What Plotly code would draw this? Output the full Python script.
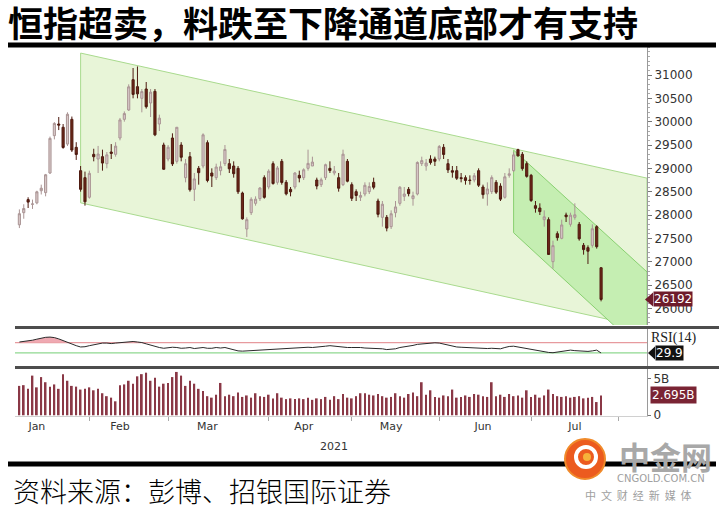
import numpy as np
import plotly.graph_objects as go

# ---------------- data ----------------
dates = [
    "2021-01-08", "2021-01-11", "2021-01-12", "2021-01-13", "2021-01-14", "2021-01-15", "2021-01-18", "2021-01-19",
    "2021-01-20", "2021-01-21", "2021-01-22", "2021-01-25", "2021-01-26", "2021-01-27", "2021-01-28", "2021-01-29",
    "2021-02-01", "2021-02-02", "2021-02-03", "2021-02-04", "2021-02-05", "2021-02-08", "2021-02-09", "2021-02-10",
    "2021-02-11", "2021-02-16", "2021-02-17", "2021-02-18", "2021-02-19", "2021-02-22", "2021-02-23", "2021-02-24",
    "2021-02-25", "2021-02-26",
    "2021-03-01", "2021-03-02", "2021-03-03", "2021-03-04", "2021-03-05", "2021-03-08", "2021-03-09", "2021-03-10",
    "2021-03-11", "2021-03-12", "2021-03-15", "2021-03-16", "2021-03-17", "2021-03-18", "2021-03-19", "2021-03-22",
    "2021-03-23", "2021-03-24", "2021-03-25", "2021-03-26", "2021-03-29", "2021-03-30", "2021-03-31",
    "2021-04-01", "2021-04-07", "2021-04-08", "2021-04-09", "2021-04-12", "2021-04-13", "2021-04-14", "2021-04-15",
    "2021-04-16", "2021-04-19", "2021-04-20", "2021-04-21", "2021-04-22", "2021-04-23", "2021-04-26", "2021-04-27",
    "2021-04-28", "2021-04-29", "2021-04-30",
    "2021-05-03", "2021-05-04", "2021-05-05", "2021-05-06", "2021-05-07", "2021-05-10", "2021-05-11", "2021-05-12",
    "2021-05-13", "2021-05-14", "2021-05-17", "2021-05-18", "2021-05-20", "2021-05-21", "2021-05-24", "2021-05-25",
    "2021-05-26", "2021-05-27", "2021-05-28", "2021-05-31",
    "2021-06-01", "2021-06-02", "2021-06-03", "2021-06-04", "2021-06-07", "2021-06-08", "2021-06-09", "2021-06-10",
    "2021-06-11", "2021-06-15", "2021-06-16", "2021-06-17", "2021-06-18", "2021-06-21", "2021-06-22", "2021-06-23",
    "2021-06-24", "2021-06-25", "2021-06-28", "2021-06-29", "2021-06-30",
    "2021-07-02", "2021-07-05", "2021-07-06", "2021-07-07", "2021-07-08", "2021-07-09", "2021-07-12", "2021-07-13",
    "2021-07-14", "2021-07-15", "2021-07-16", "2021-07-19", "2021-07-20", "2021-07-21", "2021-07-22", "2021-07-23",
    "2021-07-26",
]

opens = [
    27790, 28050, 28330, 28230, 28260, 28520, 28480, 28900, 29700, 29950, 29880, 29520, 30050, 29450, 28950, 28800,
    28380, 29300, 29200, 29250, 29100, 29350, 29300, 29650, 30050, 30250, 30900, 30750, 30500, 30700, 30400, 30650, 29950, 29500,
    29200, 29650, 29150, 29500, 28800, 29250, 28550, 29000, 29050, 29550, 28900, 28800, 28950, 29100, 29100, 29050, 29000, 28470, 27700, 28050, 28250, 28350, 28800,
    28600, 29100, 28700, 29150, 28700, 28550, 28600, 28850, 28800, 29000, 29050, 28750, 28650, 28800, 29000, 28900, 28800, 28650, 29150,
    28650, 28500, 28380, 28450, 28500, 28700, 28300, 27950, 27950, 27750, 28050, 28250, 28400, 28550, 28350, 28450, 29100, 29050, 29200, 29200,
    29200, 29450, 29100, 28950, 28950, 28800, 28800, 28750, 28750, 28950, 28600, 28450, 28500, 28700, 28620, 28380, 28850, 28950, 29400, 29300, 29100,
    28850, 28200, 28150, 27900, 27900, 27000, 27600, 27500, 28000, 27800, 27950, 27800, 27350, 27300, 27350, 27750, 26870,
]
highs = [
    28120, 28230, 28380, 28330, 28520, 28650, 28880, 29680, 29990, 30100, 29950, 30200, 30110, 29560, 29050, 28930,
    28950, 29420, 29480, 29400, 29350, 29520, 29560, 30080, 30220, 30800, 31150, 31183, 30700, 30850, 30700, 30700, 30150, 29550,
    29500, 29750, 29880, 29560, 29200, 29350, 28900, 29050, 29750, 29600, 29000, 29100, 29150, 29500, 29200, 29150, 29050, 28500, 27950, 28380, 28400, 28600, 28850,
    28980, 29150, 29050, 29200, 28750, 28600, 28920, 28950, 29000, 29400, 29250, 28800, 28800, 29100, 29150, 29050, 28900, 29400, 29200,
    28700, 28550, 28500, 28700, 28700, 28800, 28350, 28300, 28000, 28100, 28300, 28620, 28600, 28600, 28500, 29150, 29250, 29200, 29280, 29250,
    29500, 29520, 29200, 29050, 29050, 28900, 28850, 28850, 28900, 29000, 28650, 28700, 28850, 28750, 28680, 28900, 29000, 29350, 29420, 29350, 29150,
    28880, 28300, 28250, 28100, 27950, 27450, 27650, 27900, 28050, 28050, 28250, 27850, 27400, 27350, 27800, 27780, 26880,
]
lows = [
    27720, 27920, 28150, 28130, 28230, 28440, 28400, 28880, 29620, 29820, 29420, 29480, 29350, 29180, 28500, 28200,
    28350, 29150, 28900, 28950, 29000, 29200, 29250, 29600, 30000, 30230, 30500, 30500, 30200, 30280, 30100, 29690, 29800, 28970,
    29150, 29050, 29100, 29150, 28700, 28500, 28300, 28650, 29000, 28700, 28600, 28750, 28850, 29050, 28900, 28800, 28450, 27900, 27530, 28000, 28200, 28300, 28350,
    28550, 28650, 28650, 28650, 28420, 28400, 28550, 28700, 28750, 28950, 29050, 28550, 28600, 28750, 28900, 28850, 28500, 28620, 28700,
    28300, 28300, 28300, 28400, 28450, 28550, 27950, 27750, 27650, 27700, 27950, 28200, 28300, 28400, 28200, 28420, 29050, 28950, 29080, 29050,
    29150, 29200, 28900, 28800, 28750, 28700, 28650, 28650, 28700, 28600, 28350, 28200, 28450, 28450, 28300, 28350, 28800, 28920, 29250, 28950, 28800,
    28280, 28050, 28000, 27750, 27150, 26850, 27450, 27480, 27850, 27750, 27900, 27450, 27150, 26950, 27300, 27280, 26150,
]
closes = [
    28028, 28139, 28276, 28236, 28497, 28574, 28862, 29642, 29962, 29927, 29447, 30159, 29391, 29297, 28550, 28284,
    28893, 29249, 29307, 29113, 29289, 29320, 29476, 30038, 30173, 30746, 30584, 30596, 30645, 30320, 30633, 29718, 30075, 28980,
    29453, 29095, 29880, 29237, 29099, 28541, 28773, 28907, 29718, 28740, 28834, 29028, 29034, 29405, 28990, 28885, 28497, 27918, 27900, 28336, 28339, 28578, 28378,
    28939, 28674, 29008, 28698, 28453, 28497, 28900, 28793, 28969, 29106, 29135, 28621, 28755, 29078, 28952, 28941, 28574, 29303, 28724,
    28357, 28418, 28417, 28637, 28610, 28595, 28014, 28231, 27719, 28027, 28173, 28594, 28450, 28458, 28412, 29125, 29166, 29113, 29124, 29151,
    29468, 29297, 28966, 28918, 28787, 28781, 28740, 28739, 28842, 28638, 28437, 28558, 28801, 28489, 28340, 28818, 28882, 29288, 29268, 28994, 28828,
    28310, 28143, 28072, 27961, 27154, 27344, 27515, 27787, 27963, 27996, 28004, 27490, 27259, 27224, 27705, 27321, 26192,
]
volume_bn = [
    4.0, 4.1, 3.6, 5.4, 3.8, 5.2, 4.5, 3.9, 4.2, 3.6, 5.6, 4.7, 4.0, 3.9, 3.5, 3.6, 3.8, 3.4, 3.6, 3.0,
    2.6, 2.4, 1.9, 4.1, 4.2, 4.7, 4.3, 5.3, 5.6, 5.8, 4.7, 5.1, 3.9, 4.3, 4.4, 5.2, 5.9, 5.4, 4.0, 4.7,
    4.3, 3.6, 3.3, 2.6, 2.4, 2.8, 4.4, 2.6, 2.8,
    2.6, 3.1, 2.5, 2.7, 2.4, 3.0, 2.6, 2.5, 2.8, 2.3, 3.0, 2.4, 2.2, 2.3, 2.2, 2.3, 2.2, 2.4, 2.1, 2.3,
    2.2, 2.5, 2.1, 2.6, 2.2, 2.9, 2.4, 2.3, 2.6, 3.0, 3.0, 2.8, 2.7, 2.9, 2.6, 2.4, 2.5, 3.0, 2.6, 2.4,
    2.9, 3.1, 2.6, 4.5, 2.8, 3.4, 2.5, 2.4, 2.7, 2.6, 3.5, 2.4, 2.5, 2.7, 2.5, 2.9, 2.8, 2.6, 2.5, 4.5,
    2.6, 2.8, 2.5, 2.9, 2.6, 2.7, 2.4, 3.4, 2.5, 2.8, 2.4, 2.7, 3.5, 2.9, 2.6, 2.5, 2.6, 2.4, 2.5, 2.6,
    2.3, 2.4, 2.5, 1.8, 2.695,
]
rsi14 = [
    72, 74, 77, 79, 83, 87, 90, 91, 89, 84, 77, 70, 64, 58, 53, 54, 58, 62, 65, 68,
    68, 66, 68, 69, 70, 72, 74, 72, 70, 65, 60, 53, 51, 48, 51, 52, 51, 48, 49, 51,
    47, 48, 51, 48, 48, 51, 49, 51, 47, 43, 38, 37, 38, 41, 42, 43, 43, 44, 46, 47,
    48, 48, 49, 51, 51, 52, 52, 51, 52, 55, 56, 58, 56, 53, 52, 51, 51, 52, 51, 49,
    48, 49, 48, 46, 43, 44, 46, 51, 53, 56, 59, 63, 65, 66, 68, 69, 68, 64, 59, 56,
    53, 52, 51, 51, 49, 48, 48, 47, 48, 47, 46, 51, 55, 56, 53, 48, 46, 42, 39, 37,
    35, 32, 31, 34, 37, 39, 41, 39, 38, 37, 36, 38, 41, 29.9,
]
hk_holidays = ["2021-02-12", "2021-02-15", "2021-04-02", "2021-04-05", "2021-04-06",
               "2021-05-19", "2021-06-14", "2021-07-01"]
price_ticks = [26000, 26500, 27000, 27500, 28000, 28500, 29000, 29500, 30000, 30500, 31000]
month_labels = ["Jan", "Feb", "Mar", "Apr", "May", "Jun", "Jul"]
month_label_dates = ["2021-01-14", "2021-02-10", "2021-03-12", "2021-04-16", "2021-05-14", "2021-06-16", "2021-07-16"]
rsi_levels = [70, 30]

# channel anchor points (date, price)
big_channel_dates = ["2021-01-28", "2021-08-09_12:00"]
big_channel_upper = [31470, 28790]
big_channel_lower = [28260, 25580]
steep_channel_dates = ["2021-06-25", "2021-08-09_12:00"]
steep_channel_upper = [29390, 26780]
steep_channel_lower = [27620, 24980]

last_close_label = "26192"
last_rsi_label = "29.9"
last_volume_label = "2.695B"

title_text = "恒指超卖，料跌至下降通道底部才有支持"
source_text = "资料来源：彭博、招银国际证券"

assert len(dates) == len(opens) == len(highs) == len(lows) == len(closes) == len(volume_bn) == len(rsi14)

# ---------------- layout helpers (pixel -> paper) ----------------
W, H = 719, 511
ML, MR, MT, MB = 15, 72, 47, 95
PW, PH = W - ML - MR, H - MT - MB


def px(x):
    return (x - ML) / PW


def py(y):
    return (H - MB - y) / PH


FONT = "DejaVu Sans"
CJK = "Noto Sans CJK SC"

fig = go.Figure()

# candles
fig.add_trace(go.Candlestick(
    x=dates, open=opens, high=highs, low=lows, close=closes,
    increasing=dict(fillcolor="#d8c8c8", line=dict(color="#aa9494", width=1)),
    decreasing=dict(fillcolor="#6c2618", line=dict(color="#4e1a10", width=1)),
    whiskerwidth=0, xaxis="x", yaxis="y", hoverinfo="skip"))

# RSI
rsi_arr = np.array(rsi14, dtype=float)
fig.add_trace(go.Scatter(x=dates, y=[rsi_levels[0]] * len(dates), mode="lines", line=dict(width=0),
                         hoverinfo="skip", xaxis="x2", yaxis="y2"))
fig.add_trace(go.Scatter(x=dates, y=np.maximum(rsi_arr, rsi_levels[0]), mode="lines", line=dict(width=0),
                         fill="tonexty", fillcolor="#efa9b2", hoverinfo="skip", xaxis="x2", yaxis="y2"))
fig.add_trace(go.Scatter(x=dates, y=rsi14, mode="lines", line=dict(color="#2a2a2a", width=1),
                         hoverinfo="skip", xaxis="x2", yaxis="y2"))

# volume
fig.add_trace(go.Bar(x=dates, y=volume_bn, marker=dict(color="#8a3846", line=dict(width=0)),
                     width=0.40 * 86400000, hoverinfo="skip", xaxis="x3", yaxis="y3"))

rangebreaks = [dict(bounds=["sat", "mon"]), dict(values=hk_holidays)]
xrange = ["2021-01-07", "2021-08-09 12:00"]

common_x = dict(rangebreaks=rangebreaks, range=xrange, showgrid=False, zeroline=False, autorange=False)

fig.update_layout(
    width=W, height=H,
    margin=dict(l=ML, r=MR, t=MT, b=MB, autoexpand=False),
    paper_bgcolor="white", plot_bgcolor="white",
    showlegend=False,
    xaxis=dict(domain=[0, 1], anchor="y", showticklabels=False, matches="x3",
               rangeslider=dict(visible=False), **common_x),
    xaxis2=dict(domain=[0, 1], anchor="y2", showticklabels=False, matches="x3", **common_x),
    xaxis3=dict(domain=[0, 1], anchor="y3", tickmode="array", tickvals=month_label_dates, ticktext=month_labels,
                ticks="", showline=True, linecolor="#d0d0d0", linewidth=1,
                minor=dict(dtick="M1", tick0="2021-01-01", ticks="outside", ticklen=4, tickcolor="#aaaaaa"),
                tickfont=dict(family=FONT, size=11, color="#333333"), **common_x),
    yaxis=dict(domain=[py(325), 1], anchor="x", side="right", range=[25643, 31600], autorange=False,
               tickvals=price_ticks, tickformat="d", ticks="outside", ticklen=4, tickcolor="#777777",
               showline=True, linecolor="#9a9a9a", linewidth=1, showgrid=False, zeroline=False,
               minor=dict(dtick=100, ticks="outside", ticklen=2, tickcolor="#aaaaaa"),
               tickfont=dict(family=FONT, size=12, color="#333333")),
    yaxis2=dict(domain=[py(366), py(329)], anchor="x2", side="right", range=[-20, 122], autorange=False,
                showticklabels=False, ticks="", showline=True, linecolor="#9a9a9a", linewidth=1,
                showgrid=False, zeroline=False),
    yaxis3=dict(domain=[0, py(369)], anchor="x3", side="right", range=[-0.1, 6.3], autorange=False,
                tickvals=[0, 5], ticktext=["0", "5B"], ticks="outside", ticklen=3, tickcolor="#777777",
                showline=True, linecolor="#9a9a9a", linewidth=1, showgrid=False, zeroline=False,
                tickfont=dict(family=FONT, size=12, color="#333333")),
)


def channel_path(d, upper, lower):
    return (f"M {d[0]},{upper[0]} L {d[1]},{upper[1]} "
            f"L {d[1]},{lower[1]} L {d[0]},{lower[0]} Z")


shapes = []
# price channels (below the candles)
shapes.append(dict(type="path", xref="x", yref="y", layer="below",
                   path=channel_path(big_channel_dates, big_channel_upper, big_channel_lower),
                   fillcolor="#e8f5d8", line=dict(color="#a9da8e", width=1)))
shapes.append(dict(type="path", xref="x", yref="y", layer="below",
                   path=channel_path(steep_channel_dates, steep_channel_upper, steep_channel_lower),
                   fillcolor="#c5eeb2", line=dict(color="#88d070", width=1)))
# RSI reference levels
shapes.append(dict(type="line", xref="x2 domain", yref="y2", x0=0, x1=1, y0=rsi_levels[0], y1=rsi_levels[0],
                   line=dict(color="#e79a9e", width=1.2), layer="below"))
shapes.append(dict(type="line", xref="x2 domain", yref="y2", x0=0, x1=1, y0=rsi_levels[1], y1=rsi_levels[1],
                   line=dict(color="#8fd890", width=1.2), layer="below"))
# panel separators
for ysep in (327.5, 367.5):
    shapes.append(dict(type="line", xref="paper", yref="paper", x0=px(15), x1=px(719), y0=py(ysep), y1=py(ysep),
                       line=dict(color="#4d4d4d", width=3)))
# title underline and bottom rule
shapes.append(dict(type="line", xref="paper", yref="paper", x0=px(8), x1=px(716), y0=py(45), y1=py(45),
                   line=dict(color="black", width=5)))
shapes.append(dict(type="line", xref="paper", yref="paper", x0=px(8), x1=px(716), y0=py(464), y1=py(464),
                   line=dict(color="black", width=5)))
# value-label pointers
shapes.append(dict(type="path", xref="paper", yref="y",
                   path=f"M {px(645)},{closes[-1]} L {px(653)},{closes[-1] + 150} L {px(653)},{closes[-1] - 150} Z",
                   fillcolor="#6e1b2b", line=dict(width=0)))
shapes.append(dict(type="path", xref="paper", yref="y2",
                   path=f"M {px(648)},{rsi14[-1]} L {px(655)},{rsi14[-1] + 25} L {px(655)},{rsi14[-1] - 25} Z",
                   fillcolor="#111111", line=dict(width=0)))
# watermark logo
shapes.append(dict(type="circle", xref="paper", yref="paper", x0=px(565), x1=px(605), y0=py(479), y1=py(439),
                   fillcolor="#ec5b1f", line=dict(color="#f08a2a", width=2)))
shapes.append(dict(type="circle", xref="paper", yref="paper", x0=px(576), x1=px(596), y0=py(467), y1=py(447),
                   fillcolor="rgba(0,0,0,0)", line=dict(color="white", width=4)))
shapes.append(dict(type="circle", xref="paper", yref="paper", x0=px(583), x1=px(591), y0=py(461), y1=py(453),
                   fillcolor="#f6b23a", line=dict(width=0)))
fig.update_layout(shapes=shapes)

ann = []
ann.append(dict(text=title_text, xref="paper", yref="paper", x=px(6), y=py(21), xanchor="left", yanchor="middle",
                showarrow=False, font=dict(family=CJK, size=35, color="black", weight="bold")))
ann.append(dict(text=source_text, xref="paper", yref="paper", x=px(11), y=py(491), xanchor="left", yanchor="middle",
                showarrow=False, font=dict(family=CJK, size=27, color="black", weight=300)))
ann.append(dict(text="2021", xref="paper", yref="paper", x=px(334), y=py(447), xanchor="center", yanchor="middle",
                showarrow=False, font=dict(family=FONT, size=11, color="#333333")))
ann.append(dict(text=last_close_label, xref="paper", yref="y", x=px(653), y=closes[-1], xanchor="left",
                yanchor="middle", showarrow=False, bgcolor="#6e1b2b", borderpad=0,
                font=dict(family=FONT, size=12, color="white")))
ann.append(dict(text="RSI(14)", xref="paper", yref="paper", x=px(649), y=py(338), xanchor="left", yanchor="middle",
                showarrow=False, font=dict(family="Liberation Serif", size=14, color="#222222")))
ann.append(dict(text=last_rsi_label, xref="paper", yref="y2", x=px(655), y=rsi14[-1], xanchor="left",
                yanchor="middle", showarrow=False, bgcolor="#111111", borderpad=0,
                font=dict(family=FONT, size=12, color="white")))
ann.append(dict(text=last_volume_label, xref="paper", yref="y3", x=px(650), y=volume_bn[-1], xanchor="left",
                yanchor="middle", showarrow=False, bgcolor="#7a2434", borderpad=1,
                font=dict(family=FONT, size=12, color="white")))
# watermark text
ann.append(dict(text="<b>中金网</b>", xref="paper", yref="paper", x=px(665), y=py(455), xanchor="center",
                yanchor="middle", showarrow=False, font=dict(family=CJK, size=31, color="#a8a8a8")))
ann.append(dict(text="CNGOLD.COM.CN", xref="paper", yref="paper", x=px(661), y=py(478), xanchor="center",
                yanchor="middle", showarrow=False, font=dict(family=FONT, size=10, color="#a0a0a0")))
ann.append(dict(text="中  文  财  经  新  媒  体", xref="paper", yref="paper", x=px(638), y=py(495), xanchor="center",
                yanchor="middle", showarrow=False, font=dict(family=CJK, size=11, color="#a0a0a0")))
fig.update_layout(annotations=ann)

fig.write_html("out.html", config={"displayModeBar": False},
               post_script="document.body.style.margin='0px';")
